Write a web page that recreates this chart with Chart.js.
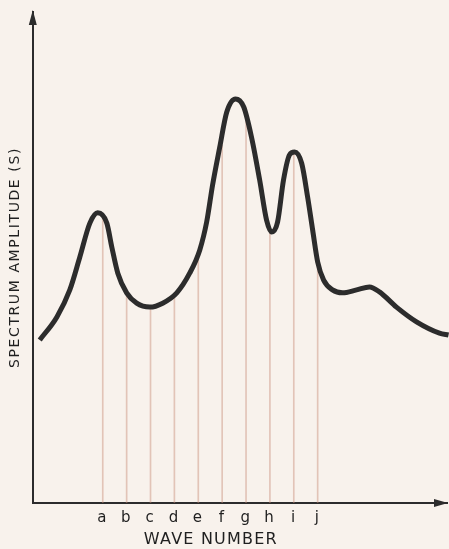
<!DOCTYPE html>
<html>
<head>
<meta charset="utf-8">
<script src="https://cdn.jsdelivr.net/npm/chart.js@4"></script>
<style>
  html, body { margin: 0; padding: 0; background: #f8f2ec; }
</style>
</head>
<body>
<canvas id="chart" width="449" height="549"></canvas>
<script>
// wave number labels and where they sit on the x scale
const waveLabels = ['a', 'b', 'c', 'd', 'e', 'f', 'g', 'h', 'i', 'j'];
const labelPos = [1, 2, 3, 4, 5, 6, 7, 8, 9, 10];
// height of the curve at each labelled wave number (drop lines)
const dropHeights = [58.2, 42.8, 39.9, 42.4, 49.9, 72.9, 80.4, 56.0, 71.5, 49.1];

// spectrum curve
const curveX = [-1.64, -0.92, -0.38, 0.04, 0.46, 0.79, 1.17, 1.38, 1.63, 2.00,
  2.42, 2.97, 3.51, 4.10, 4.64, 5.06, 5.35, 5.60, 5.90, 6.19,
  6.56, 6.90, 7.23, 7.57, 7.86, 8.07, 8.32, 8.57, 8.82, 9.03,
  9.33, 9.58, 9.79, 10.00, 10.25, 10.62, 11.04, 11.63, 12.17, 12.59,
  13.30, 14.14, 15.10, 15.48];
const curveY = [33.2, 37.9, 43.4, 50.1, 57.0, 59.1, 57.0, 52.1, 46.8, 42.8,
  40.7, 39.9, 40.7, 42.8, 46.8, 51.5, 57.2, 64.8, 72.5, 79.6,
  82.3, 80.7, 74.5, 65.8, 57.6, 55.2, 57.2, 65.8, 70.9, 71.5,
  69.2, 62.3, 55.6, 49.1, 45.4, 43.4, 42.8, 43.4, 44.0, 43.0,
  39.9, 36.9, 34.6, 34.2];

const ink = '#2c2c2c';

const decorations = {
  id: 'decorations',
  beforeDraw(chart) {
    const ctx = chart.ctx;
    ctx.save();
    ctx.fillStyle = '#f8f2ec';
    ctx.fillRect(0, 0, chart.width, chart.height);
    ctx.restore();
    ctx.letterSpacing = '1.6px';
  },
  beforeDatasetsDraw(chart) {
    chart.ctx.letterSpacing = '0px';
  },
  afterDraw(chart) {
    const { ctx, chartArea, scales: { x } } = chart;
    ctx.save();
    ctx.fillStyle = ink;
    // arrow heads
    ctx.beginPath();
    ctx.moveTo(chartArea.left, chartArea.top - 2);
    ctx.lineTo(chartArea.left - 4, chartArea.top + 13);
    ctx.lineTo(chartArea.left + 4, chartArea.top + 13);
    ctx.closePath();
    ctx.fill();
    const tip = chartArea.right - 1;
    ctx.clearRect(tip, chartArea.bottom - 2, 2, 4);
    ctx.fillStyle = '#f8f2ec';
    ctx.fillRect(tip, chartArea.bottom - 2, 2, 4);
    ctx.fillStyle = ink;
    ctx.beginPath();
    ctx.moveTo(tip, chartArea.bottom);
    ctx.lineTo(tip - 14, chartArea.bottom - 4);
    ctx.lineTo(tip - 14, chartArea.bottom + 4);
    ctx.closePath();
    ctx.fill();
    // x title, centred under the lettered wave numbers
    ctx.fillStyle = '#1f1f1f';
    ctx.letterSpacing = '1.2px';
    ctx.font = '16px "DejaVu Sans"';
    ctx.textAlign = 'center';
    ctx.textBaseline = 'middle';
    ctx.fillText('WAVE NUMBER', x.getPixelForValue(5.5) + 0.6, 540);
    ctx.restore();
  }
};

new Chart(document.getElementById('chart'), {
  type: 'line',
  data: {
    datasets: [
      {
        type: 'line',
        data: curveX.map((v, i) => ({ x: v, y: curveY[i] })),
        borderColor: ink,
        borderWidth: 5,
        pointRadius: 0,
        cubicInterpolationMode: 'monotone',
        clip: false,
        order: 0
      },
      {
        type: 'bar',
        data: labelPos.map((v, i) => ({ x: v, y: dropHeights[i] })),
        backgroundColor: 'rgba(200, 140, 120, 0.45)',
        barThickness: 1,
        order: 1
      }
    ]
  },
  options: {
    responsive: false,
    animation: false,
    layout: { padding: { left: 7, right: 0, top: 12, bottom: 16 } },
    plugins: { legend: { display: false }, tooltip: { enabled: false } },
    scales: {
      x: {
        type: 'linear',
        offset: false,
        min: -1.93,
        max: 15.5,
        grid: { display: false, drawTicks: false, offset: false },
        border: { display: true, color: ink, width: 2 },
        afterBuildTicks: s => { s.ticks = labelPos.map(v => ({ value: v })); },
        ticks: {
          callback: v => waveLabels[labelPos.indexOf(v)],
          color: '#1f1f1f',
          font: { family: 'DejaVu Sans', size: 15 },
          padding: 6,
          maxRotation: 0,
          autoSkip: false
        }
      },
      y: {
        min: 0,
        max: 100,
        grid: { display: false, drawTicks: false },
        border: { display: true, color: ink, width: 2 },
        ticks: { display: false },
        title: {
          display: true,
          text: 'SPECTRUM AMPLITUDE (S)',
          color: '#1f1f1f',
          font: { family: 'DejaVu Sans', size: 14 },
          padding: { top: 0, bottom: 9 }
        }
      }
    }
  },
  plugins: [decorations]
});
</script>
</body>
</html>
